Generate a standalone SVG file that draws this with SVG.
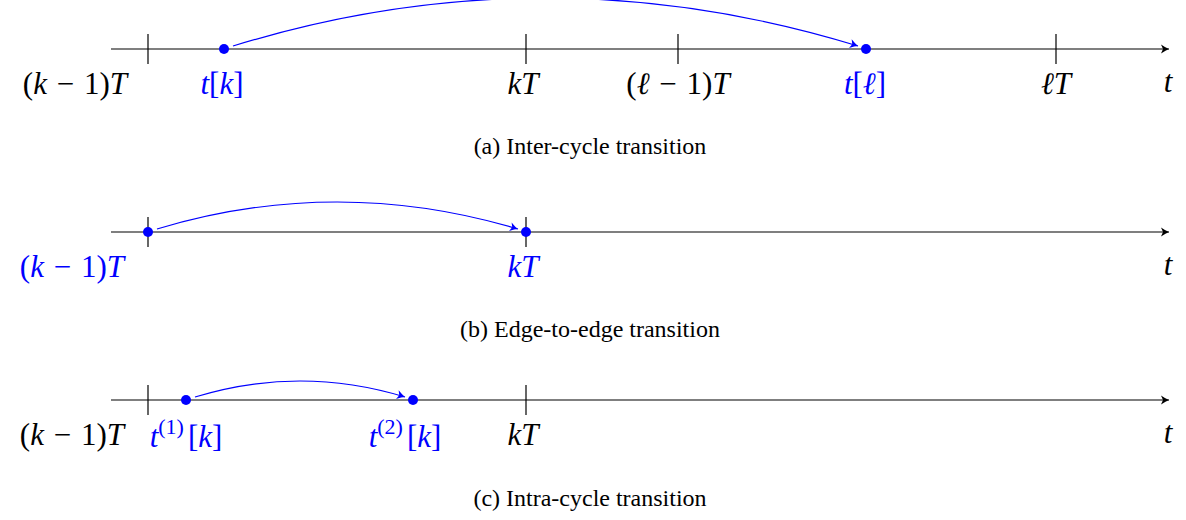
<svg xmlns="http://www.w3.org/2000/svg" width="1186" height="520" viewBox="0 0 1186 520">
<style>
.axis{stroke:#000;stroke-width:1.2;fill:none}
.tick{stroke:#000;stroke-width:1.2}
.arc{stroke:#0000ff;stroke-width:1.2;fill:none}
.dot{fill:#0000ff}
.m{font-family:"Liberation Serif","Times New Roman",serif;font-size:31px;fill:#000}
.b{fill:#0000ff}
.i{font-style:italic}
.cap{font-family:"Liberation Serif","Times New Roman",serif;font-size:24px;fill:#000;text-anchor:middle}
</style>
<defs>
<marker id="ak" markerUnits="userSpaceOnUse" markerWidth="14" markerHeight="12" viewBox="-10 -6 12 12" refX="0" refY="0" orient="auto">
<path d="M-8,-4.5 Q-3,-1 0,0 Q-3,1 -8,4.5 L-6,0 Z" fill="#000"/>
</marker>
<marker id="ab" markerUnits="userSpaceOnUse" markerWidth="14" markerHeight="12" viewBox="-10 -6 12 12" refX="0" refY="0" orient="auto">
<path d="M-8,-4.5 Q-3,-1 0,0 Q-3,1 -8,4.5 L-6,0 Z" fill="#0000ff"/>
</marker>
</defs>

<g id="connectors">
<line class="axis" x1="111" y1="49" x2="1169" y2="49" marker-end="url(#ak)"/>
<line class="axis" x1="111" y1="232" x2="1169" y2="232" marker-end="url(#ak)"/>
<line class="axis" x1="111" y1="400" x2="1169" y2="400" marker-end="url(#ak)"/>
<path class="arc" d="M233,46 Q545,-50 858,46" marker-end="url(#ab)"/>
<path class="arc" d="M157,229 Q337,175 518,229" marker-end="url(#ab)"/>
<path class="arc" d="M195,397 Q300,365 405,397" marker-end="url(#ab)"/>
</g>

<g id="panel-a">
<line class="tick" x1="148" y1="34" x2="148" y2="64"/>
<line class="tick" x1="526" y1="34" x2="526" y2="64"/>
<line class="tick" x1="678" y1="34" x2="678" y2="64"/>
<line class="tick" x1="1056" y1="34" x2="1056" y2="64"/>
<circle class="dot" cx="224" cy="49" r="5"/>
<circle class="dot" cx="866" cy="49" r="5"/>
<text class="m" x="127" y="94" text-anchor="end">(<tspan class="i">k</tspan><tspan dx="2"> − </tspan><tspan dx="2">1)</tspan><tspan class="i">T</tspan></text>
<text class="m b" x="222" y="94" text-anchor="middle"><tspan class="i">t</tspan>[<tspan class="i">k</tspan>]</text>
<text class="m" x="523" y="94" text-anchor="middle"><tspan class="i">kT</tspan></text>
<text class="m" x="678" y="94" text-anchor="middle">(<tspan class="i">ℓ</tspan><tspan dx="2"> − </tspan><tspan dx="2">1)</tspan><tspan class="i">T</tspan></text>
<text class="m b" x="865" y="94" text-anchor="middle"><tspan class="i">t</tspan>[<tspan class="i">ℓ</tspan>]</text>
<text class="m" x="1056" y="94" text-anchor="middle"><tspan class="i">ℓT</tspan></text>
<text class="m" x="1168" y="92" text-anchor="middle"><tspan class="i">t</tspan></text>
<text class="cap" x="590" y="154">(a) Inter-cycle transition</text>
</g>

<g id="panel-b">
<line class="tick" x1="148" y1="217" x2="148" y2="247"/>
<line class="tick" x1="526" y1="217" x2="526" y2="247"/>
<circle class="dot" cx="148" cy="232" r="5"/>
<circle class="dot" cx="526" cy="232" r="5"/>
<text class="m b" x="124" y="277" text-anchor="end">(<tspan class="i">k</tspan><tspan dx="2"> − </tspan><tspan dx="2">1)</tspan><tspan class="i">T</tspan></text>
<text class="m b" x="523" y="277" text-anchor="middle"><tspan class="i">kT</tspan></text>
<text class="m" x="1168" y="275" text-anchor="middle"><tspan class="i">t</tspan></text>
<text class="cap" x="590" y="337">(b) Edge-to-edge transition</text>
</g>

<g id="panel-c">
<line class="tick" x1="148" y1="385" x2="148" y2="415"/>
<line class="tick" x1="526" y1="385" x2="526" y2="415"/>
<circle class="dot" cx="186" cy="400" r="5"/>
<circle class="dot" cx="413" cy="400" r="5"/>
<text class="m" x="124" y="445" text-anchor="end">(<tspan class="i">k</tspan><tspan dx="2"> − </tspan><tspan dx="2">1)</tspan><tspan class="i">T</tspan></text>
<text class="m b" x="186" y="447" text-anchor="middle"><tspan class="i">t</tspan><tspan font-size="22" dy="-13">(1)</tspan><tspan dx="4" dy="13">[<tspan class="i">k</tspan>]</tspan></text>
<text class="m b" x="405" y="447" text-anchor="middle"><tspan class="i">t</tspan><tspan font-size="22" dy="-13">(2)</tspan><tspan dx="4" dy="13">[<tspan class="i">k</tspan>]</tspan></text>
<text class="m" x="523" y="445" text-anchor="middle"><tspan class="i">kT</tspan></text>
<text class="m" x="1168" y="443" text-anchor="middle"><tspan class="i">t</tspan></text>
<text class="cap" x="590" y="506">(c) Intra-cycle transition</text>
</g>
</svg>
